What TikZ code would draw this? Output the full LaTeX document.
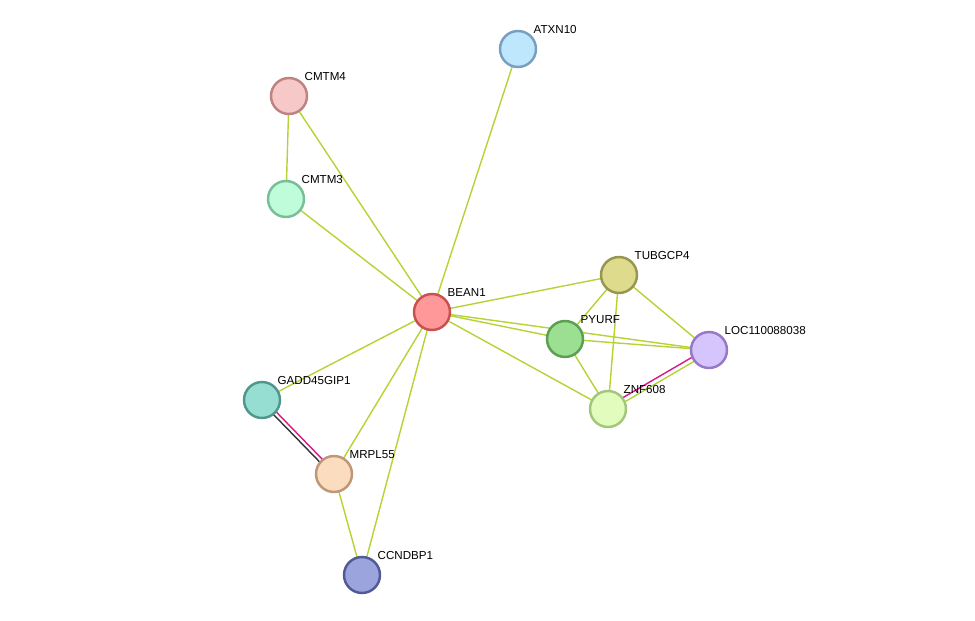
\documentclass[tikz,border=0pt]{standalone}
\usepackage{fontspec}
\setmainfont{Liberation Sans}
\usetikzlibrary{positioning}
\definecolor{edge}{HTML}{B5D334}
\tikzset{
    prot/.style={circle, draw, line width=1.4pt, minimum size=0.72cm, inner sep=0pt},
    lbl/.style={font=\fontsize{6.6}{7}\selectfont, anchor=south west, inner sep=1pt},
    link/.style={edge, line width=0.8pt}
}
\begin{document}
\begin{tikzpicture}[x=0.02cm, y=-0.02cm]
    \useasboundingbox (0, 0) rectangle (975, 621);
    % edges first
    \coordinate (bean) at (432, 312);
    \coordinate (atxn) at (518, 49);
    \coordinate (cmtm4) at (289, 96);
    \coordinate (cmtm3) at (286, 199);
    \coordinate (tubg) at (619, 275);
    \coordinate (pyurf) at (565, 339);
    \coordinate (loc) at (709, 350);
    \coordinate (znf) at (608, 409);
    \coordinate (gadd) at (262, 400);
    \coordinate (mrpl) at (334, 474);
    \coordinate (ccnd) at (362, 575);

    \foreach \t in {atxn, cmtm4, cmtm3, tubg, pyurf, loc, znf, gadd, mrpl, ccnd}
        \draw [link] (bean) -- (\t);
    \draw [link] (cmtm4) -- (cmtm3);
    \draw [link] (tubg) -- (pyurf);
    \draw [link] (tubg) -- (znf);
    \draw [link] (tubg) -- (loc);
    \draw [link] (pyurf) -- (loc);
    \draw [link] (pyurf) -- (znf);
    \draw [link] ([yshift=-1.5]loc) -- ([yshift=-1.5]znf);
    \draw [magenta!80!violet, line width=0.8pt] ([yshift=1.5]loc) -- ([yshift=1.5]znf);
    \draw [magenta!80!violet, line width=0.8pt] ([xshift=1.5]gadd) -- ([xshift=1.5]mrpl);
    \draw [black!80, line width=0.8pt] ([xshift=-1.5]gadd) -- ([xshift=-1.5]mrpl);
    \draw [link] (mrpl) -- (ccnd);

    % proteins
    \node (BEAN1) [prot, fill={rgb,255:red,255;green,153;blue,153}, draw={rgb,255:red,200;green,80;blue,80}] at (bean) {};
    \node (ATXN10) [prot, fill={rgb,255:red,190;green,230;blue,252}, draw={rgb,255:red,120;green,160;blue,190}] at (atxn) {};
    \node (CMTM4) [prot, fill={rgb,255:red,246;green,200;blue,200}, draw={rgb,255:red,190;green,130;blue,130}] at (cmtm4) {};
    \node (CMTM3) [prot, fill={rgb,255:red,190;green,252;blue,218}, draw={rgb,255:red,120;green,190;blue,150}] at (cmtm3) {};
    \node (TUBGCP4) [prot, fill={rgb,255:red,222;green,220;blue,140}, draw={rgb,255:red,150;green,150;blue,80}] at (tubg) {};
    \node (PYURF) [prot, fill={rgb,255:red,156;green,222;blue,146}, draw={rgb,255:red,90;green,160;blue,80}] at (pyurf) {};
    \node (LOC) [prot, fill={rgb,255:red,214;green,196;blue,252}, draw={rgb,255:red,150;green,120;blue,200}] at (loc) {};
    \node (ZNF608) [prot, fill={rgb,255:red,226;green,252;blue,190}, draw={rgb,255:red,160;green,200;blue,120}] at (znf) {};
    \node (GADD) [prot, fill={rgb,255:red,150;green,222;blue,210}, draw={rgb,255:red,80;green,150;blue,140}] at (gadd) {};
    \node (MRPL55) [prot, fill={rgb,255:red,252;green,220;blue,190}, draw={rgb,255:red,190;green,150;blue,120}] at (mrpl) {};
    \node (CCNDBP1) [prot, fill={rgb,255:red,156;green,164;blue,222}, draw={rgb,255:red,80;green,90;blue,150}] at (ccnd) {};

    % labels
    \node [lbl] at (BEAN1.north east) {BEAN1};
    \node [lbl] at (ATXN10.north east) {ATXN10};
    \node [lbl] at (CMTM4.north east) {CMTM4};
    \node [lbl] at (CMTM3.north east) {CMTM3};
    \node [lbl] at (TUBGCP4.north east) {TUBGCP4};
    \node [lbl] at (PYURF.north east) {PYURF};
    \node [lbl] at (LOC.north east) {LOC110088038};
    \node [lbl] at (ZNF608.north east) {ZNF608};
    \node [lbl] at (GADD.north east) {GADD45GIP1};
    \node [lbl] at (MRPL55.north east) {MRPL55};
    \node [lbl] at (CCNDBP1.north east) {CCNDBP1};
\end{tikzpicture}
\end{document}
